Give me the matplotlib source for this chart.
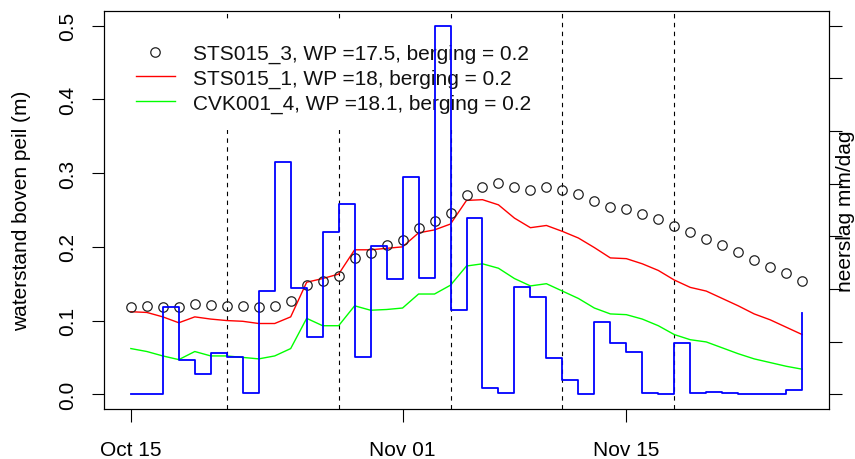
import numpy as np
import pandas as pd
import matplotlib as mpl
mpl.use('Agg')
import matplotlib.pyplot as plt
import matplotlib.dates as mdates
from matplotlib.patches import Rectangle

mpl.rcParams.update({
    'font.family': 'sans-serif',
    'font.sans-serif': ['Liberation Sans', 'Arial', 'DejaVu Sans'],
    'font.size': 15,
    'axes.linewidth': 0.8,
    'figure.facecolor': 'white',
    'axes.facecolor': 'white',
})

DATES = pd.date_range('2020-10-15', '2020-11-26', freq='D')
WEEK_LINES = pd.to_datetime(['2020-10-21', '2020-10-28', '2020-11-04',
                             '2020-11-11', '2020-11-18'])
TICK_DATES = pd.to_datetime(['2020-10-15', '2020-11-01', '2020-11-15'])

# waterstand boven peil (m)
STS015_3 = [0.119, 0.120, 0.119, 0.118, 0.122, 0.121, 0.120, 0.120, 0.119, 0.120,
            0.126, 0.148, 0.154, 0.161, 0.185, 0.192, 0.202, 0.209, 0.226, 0.235,
            0.246, 0.270, 0.281, 0.286, 0.281, 0.277, 0.281, 0.277, 0.272, 0.262,
            0.254, 0.251, 0.244, 0.238, 0.228, 0.220, 0.211, 0.202, 0.193, 0.182,
            0.173, 0.164, 0.154]
STS015_1 = [0.112, 0.111, 0.105, 0.097, 0.105, 0.102, 0.100, 0.099, 0.096, 0.096,
            0.105, 0.152, 0.157, 0.163, 0.196, 0.196, 0.198, 0.200, 0.219, 0.223,
            0.231, 0.263, 0.264, 0.257, 0.239, 0.226, 0.229, 0.221, 0.212, 0.199,
            0.185, 0.184, 0.177, 0.168, 0.155, 0.145, 0.140, 0.130, 0.120, 0.109,
            0.101, 0.091, 0.081]
CVK001_4 = [0.062, 0.058, 0.052, 0.047, 0.058, 0.052, 0.052, 0.050, 0.048, 0.052,
            0.062, 0.103, 0.093, 0.093, 0.120, 0.114, 0.115, 0.117, 0.136, 0.136,
            0.148, 0.174, 0.177, 0.171, 0.157, 0.147, 0.150, 0.140, 0.130, 0.117,
            0.109, 0.108, 0.102, 0.093, 0.081, 0.074, 0.071, 0.063, 0.055, 0.048,
            0.043, 0.038, 0.034]

# neerslag (mm/dag)
NEERSLAG = [0.0, 0.0, 8.3, 3.3, 1.9, 3.9, 3.5, 0.15, 9.8, 22.1,
            10.1, 5.4, 15.4, 18.1, 3.5, 14.1, 10.9, 20.6, 11.0, 35.0,
            8.0, 16.7, 0.6, 0.15, 10.2, 9.2, 3.4, 1.4, 0.0, 6.9,
            4.9, 4.0, 0.15, 0.07, 4.9, 0.15, 0.2, 0.1, 0.0, 0.0,
            0.0, 0.4, 7.7]

LABELS = ['STS015_3, WP =17.5, berging = 0.2',
          'STS015_1, WP =18, berging = 0.2',
          'CVK001_4, WP =18.1, berging = 0.2']

W, H = 855, 460
AX_L, AX_R, AX_T, AX_B = 104, 829, 12, 410


def frac(px, py):
    """pixel position in the figure -> axes fraction"""
    return (px - AX_L) / (AX_R - AX_L), (AX_B - py) / (AX_B - AX_T)


fig = plt.figure(figsize=(W / 100, H / 100), dpi=100)
ax = fig.add_axes([AX_L / W, 1 - AX_B / H, (AX_R - AX_L) / W, (AX_B - AX_T) / H])

for d in WEEK_LINES:
    ax.axvline(d, color='black', lw=0.8, ls=(0, (4, 4)), zorder=1)

ax.plot(DATES, STS015_1, color='#ff0000', lw=1.0, zorder=3)
ax.plot(DATES, CVK001_4, color='#00ff00', lw=1.0, zorder=3)
ax.plot(DATES, STS015_3, ls='none', marker='o', ms=6.8, mfc='none',
        mec='#222222', mew=0.9, zorder=4)

# legend drawn by hand, white background without a border
x0, y0 = frac(125, 131)
x1, y1 = frac(545, 22.5)
ax.add_patch(Rectangle((x0, y0), x1 - x0, y1 - y0, transform=ax.transAxes,
                       facecolor='white', edgecolor='none', zorder=5))
ax.plot(*frac(155, 52.7), transform=ax.transAxes, ls='none', marker='o',
        ms=6.8, mfc='none', mec='#222222', mew=0.9, zorder=6)
for py, col in [(76.7, '#ff0000'), (102, '#00ff00')]:
    (xa, ya), (xb, _) = frac(136, py), frac(175, py)
    ax.plot([xa, xb], [ya, ya], transform=ax.transAxes, color=col, lw=1.0, zorder=6)
for py, lbl in zip([60, 85, 110], LABELS):
    tx, ty = frac(193, py)
    ax.text(tx, ty, lbl, transform=ax.transAxes, ha='left', va='baseline',
            fontsize=15, color='#111111', zorder=6)

ax.set_xlim(DATES[0] - pd.Timedelta(days=1.68), DATES[-1] + pd.Timedelta(days=1.68))
ax.set_ylim(-0.02, 0.52)
ax.set_yticks([0.0, 0.1, 0.2, 0.3, 0.4, 0.5])
ax.set_yticklabels(['0.0', '0.1', '0.2', '0.3', '0.4', '0.5'])
ax.set_xticks(TICK_DATES)
ax.xaxis.set_major_formatter(mdates.DateFormatter('%b %d'))
ax.xaxis.set_minor_locator(mpl.ticker.NullLocator())
ax.tick_params(axis='x', length=9, width=0.8, pad=13, labelsize=15)
ax.tick_params(axis='y', length=9, width=0.8, pad=10, labelsize=15, labelrotation=90)
for t in ax.get_yticklabels():
    t.set_va('center')

# precipitation on its own scale
ax2 = ax.twinx()
ax2.step(DATES, NEERSLAG, where='post', color='#0000ff', lw=1.3, zorder=7)
ax2.set_ylim(-1.4, 36.4)
ax2.set_yticks(np.arange(0, 36, 5))
ax2.tick_params(axis='y', length=9, width=0.8, labelright=False)

fig.text(22 / W, 1 - 211 / H, 'waterstand boven peil (m)', rotation=90,
         ha='center', va='center', fontsize=15)
fig.text(845 / W, 1 - 211 / H, 'neerslag mm/dag', rotation=90,
         ha='center', va='center', fontsize=15)

fig.savefig('out.png', dpi=100)
